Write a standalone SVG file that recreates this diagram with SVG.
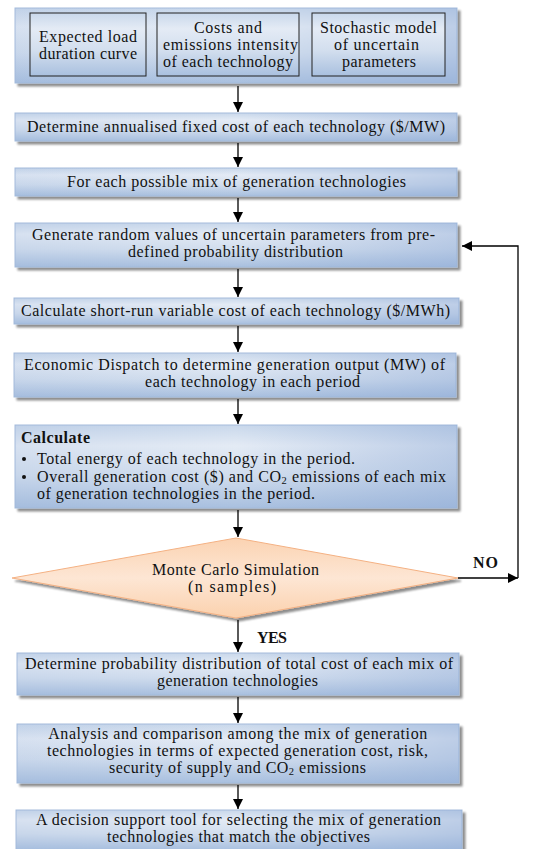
<svg xmlns="http://www.w3.org/2000/svg" width="537" height="849" viewBox="0 0 537 849" font-family="'Liberation Serif', 'DejaVu Serif', serif">
<defs>
<linearGradient id="gv" x1="0" y1="0" x2="0" y2="1">
<stop offset="0" stop-color="#c9d8eb"/>
<stop offset="0.25" stop-color="#e4ebf5"/>
<stop offset="0.6" stop-color="#d2deee"/>
<stop offset="1" stop-color="#a9c0df"/>
</linearGradient>
<linearGradient id="gh" x1="0" y1="0" x2="1" y2="0">
<stop offset="0" stop-color="#8eaad6" stop-opacity="0.15"/>
<stop offset="0.5" stop-color="#8eaad6" stop-opacity="0"/>
<stop offset="1" stop-color="#8eaad6" stop-opacity="0.45"/>
</linearGradient>
<linearGradient id="gd" x1="0" y1="0" x2="0" y2="1">
<stop offset="0" stop-color="#fbd3b2"/>
<stop offset="0.5" stop-color="#fde6d4"/>
<stop offset="1" stop-color="#fbd1ad"/>
</linearGradient>
<marker id="ah" viewBox="0 0 10 10" refX="10" refY="5" markerWidth="10" markerHeight="10" markerUnits="userSpaceOnUse" orient="auto">
<path d="M0,0 L10,5 L0,10 z" fill="#000"/>
</marker>
<filter id="sh" x="-5%" y="-20%" width="115%" height="150%">
<feGaussianBlur in="SourceAlpha" stdDeviation="1"/>
<feOffset dx="2.5" dy="3" result="b"/>
<feComponentTransfer><feFuncA type="linear" slope="0.45"/></feComponentTransfer>
<feMerge><feMergeNode/><feMergeNode in="SourceGraphic"/></feMerge>
</filter>
</defs>
<style>
text{font-family:'Liberation Serif','DejaVu Serif',serif;}
.t{font-size:16px;fill:#111;}
.c{text-anchor:middle;}
.b{font-weight:bold;}
.box{fill:url(#gv);stroke:#a5bcdb;stroke-width:1;}
.ov{fill:url(#gh);stroke:none;}
.inner{fill:url(#gv);stroke:#222;stroke-width:1;}
.arr{stroke:#000;stroke-width:1.3;fill:none;marker-end:url(#ah);}
.sub{font-size:10.5px;}
</style>

<g id="inputs">
<g filter="url(#sh)"><rect class="box" x="15" y="8" width="442" height="75"/></g>
<rect class="ov" x="15" y="8" width="442" height="75"/>
<g id="input-load">
<rect class="inner" x="30" y="13" width="116" height="63"/>
<text class="t c" x="88" y="42" textLength="98" lengthAdjust="spacing">Expected load</text>
<text class="t c" x="88" y="59" textLength="98" lengthAdjust="spacing">duration curve</text>
</g>
<g id="input-costs">
<rect class="inner" x="157" y="13" width="142" height="63"/>
<text class="t c" x="228" y="33" textLength="68" lengthAdjust="spacing">Costs and</text>
<text class="t c" x="230.5" y="50" textLength="135" lengthAdjust="spacing">emissions intensity</text>
<text class="t c" x="228" y="67" textLength="130" lengthAdjust="spacing">of each technology</text>
</g>
<g id="input-stochastic">
<rect class="inner" x="312" y="13" width="133" height="63"/>
<text class="t c" x="378.5" y="33" textLength="117" lengthAdjust="spacing">Stochastic model</text>
<text class="t c" x="376.5" y="50" textLength="85" lengthAdjust="spacing">of uncertain</text>
<text class="t c" x="379" y="67" textLength="74" lengthAdjust="spacing">parameters</text>
</g>
</g>

<g id="fixed-cost">
<g filter="url(#sh)"><rect class="box" x="15" y="113" width="442" height="28"/></g>
<rect class="ov" x="15" y="113" width="442" height="28"/>
<text class="t c" x="236" y="132" textLength="418" lengthAdjust="spacing">Determine annualised fixed cost of each technology ($/MW)</text>
</g>

<g id="each-mix">
<g filter="url(#sh)"><rect class="box" x="15" y="168" width="442" height="28"/></g>
<rect class="ov" x="15" y="168" width="442" height="28"/>
<text class="t c" x="236.5" y="187" textLength="339" lengthAdjust="spacing">For each possible mix of generation technologies</text>
</g>

<g id="generate">
<g filter="url(#sh)"><rect class="box" x="15" y="223" width="442" height="44"/></g>
<rect class="ov" x="15" y="223" width="442" height="44"/>
<text class="t c" x="233.5" y="240" textLength="403" lengthAdjust="spacing">Generate random values of uncertain parameters from pre-</text>
<text class="t c" x="235.5" y="257" textLength="215" lengthAdjust="spacing">defined probability distribution</text>
</g>

<g id="short-run">
<g filter="url(#sh)"><rect class="box" x="14" y="298" width="445" height="26"/></g>
<rect class="ov" x="14" y="298" width="445" height="26"/>
<text class="t c" x="235.5" y="316" textLength="429" lengthAdjust="spacing">Calculate short-run variable cost of each technology ($/MWh)</text>
</g>

<g id="dispatch">
<g filter="url(#sh)"><rect class="box" x="14" y="353" width="442" height="44"/></g>
<rect class="ov" x="14" y="353" width="442" height="44"/>
<text class="t c" x="234.5" y="370" textLength="421" lengthAdjust="spacing">Economic Dispatch to determine generation output (MW) of</text>
<text class="t c" x="252.5" y="387" textLength="215" lengthAdjust="spacing">each technology in each period</text>
</g>

<g id="calculate">
<g filter="url(#sh)"><rect class="box" x="15" y="425" width="442" height="83"/></g>
<rect class="ov" x="15" y="425" width="442" height="83"/>
<text class="t b" x="21" y="443" textLength="69" lengthAdjust="spacing">Calculate</text>
<circle cx="24" cy="459" r="2" fill="#111"/>
<text class="t" x="37" y="464" textLength="318" lengthAdjust="spacing">Total energy of each technology in the period.</text>
<circle cx="24" cy="477" r="2" fill="#111"/>
<text class="t" x="37" y="482" textLength="409" lengthAdjust="spacing">Overall generation cost ($) and CO<tspan class="sub" baseline-shift="-2">2</tspan> emissions of each mix</text>
<text class="t" x="37" y="499" textLength="278" lengthAdjust="spacing">of generation technologies in the period.</text>
</g>

<g id="monte-carlo">
<polygon points="236,538 458,578 236,618 12,578" fill="url(#gd)" stroke="#f4b183" stroke-width="1" filter="url(#sh)"/>
<text class="t c" x="235.5" y="575" textLength="167" lengthAdjust="spacing">Monte Carlo Simulation</text>
<text class="t c" x="232" y="592" textLength="88" lengthAdjust="spacing">(n samples)</text>
</g>

<g id="probability">
<g filter="url(#sh)"><rect class="box" x="17" y="653" width="442" height="42"/></g>
<rect class="ov" x="17" y="653" width="442" height="42"/>
<text class="t c" x="239" y="669" textLength="428" lengthAdjust="spacing">Determine probability distribution of total cost of each mix of</text>
<text class="t c" x="237.5" y="686" textLength="161" lengthAdjust="spacing">generation technologies</text>
</g>

<g id="analysis">
<g filter="url(#sh)"><rect class="box" x="17" y="724" width="442" height="59"/></g>
<rect class="ov" x="17" y="724" width="442" height="59"/>
<text class="t c" x="237.7" y="739" textLength="379" lengthAdjust="spacing">Analysis and comparison among the mix of generation</text>
<text class="t c" x="237.5" y="756" textLength="381" lengthAdjust="spacing">technologies in terms of expected generation cost, risk,</text>
<text class="t c" x="237.5" y="773" textLength="257" lengthAdjust="spacing">security of supply and CO<tspan class="sub" baseline-shift="-2">2</tspan> emissions</text>
</g>

<g id="decision">
<g filter="url(#sh)"><rect class="box" x="16" y="810" width="446" height="40"/></g>
<rect class="ov" x="16" y="810" width="446" height="40"/>
<text class="t c" x="238.5" y="825" textLength="405" lengthAdjust="spacing">A decision support tool for selecting the mix of generation</text>
<text class="t c" x="238.5" y="842" textLength="263" lengthAdjust="spacing">technologies that match the objectives</text>
</g>

<g id="connectors">
<line class="arr" x1="238" y1="86" x2="238" y2="112"/>
<line class="arr" x1="238" y1="143" x2="238" y2="167"/>
<line class="arr" x1="238" y1="198" x2="238" y2="222"/>
<line class="arr" x1="238" y1="269" x2="238" y2="297"/>
<line class="arr" x1="238" y1="326" x2="238" y2="352"/>
<line class="arr" x1="238" y1="399" x2="238" y2="424"/>
<line class="arr" x1="238" y1="510" x2="238" y2="537"/>
<line class="arr" x1="238" y1="620" x2="238" y2="652"/>
<line class="arr" x1="238" y1="697" x2="238" y2="723"/>
<line class="arr" x1="238" y1="785" x2="238" y2="809"/>
<line class="arr" x1="458" y1="578" x2="518" y2="578"/>
<polyline class="arr" points="518,578 518,246 462,246"/>
<text class="t b" x="473" y="568" textLength="25" lengthAdjust="spacing">NO</text>
<text class="t b" x="257" y="643" textLength="30" lengthAdjust="spacing">YES</text>
</g>
</svg>
